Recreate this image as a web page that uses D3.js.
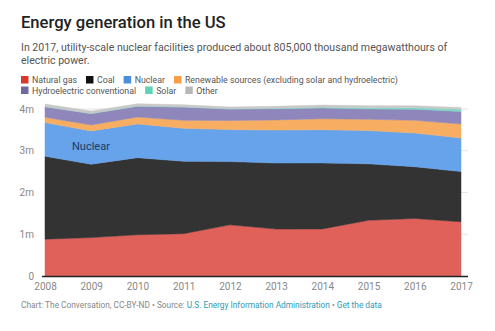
<!DOCTYPE html>
<html><head><meta charset="utf-8">
<script src="https://cdn.jsdelivr.net/npm/d3@7"></script>
<style>
body{margin:0;background:#fff;font-family:Roboto,"Open Sans",sans-serif;}
svg{display:block}
</style></head>
<body>
<svg id="c" width="495" height="331"></svg>
<script>
const years = [2008,2009,2010,2011,2012,2013,2014,2015,2016,2017];
// values in thousand MWh
const naturalGas = [882981,920979,987697,1013689,1225894,1124836,1126609,1333482,1378307,1296442];
const coal = [1985801,1755904,1847290,1733430,1514043,1581115,1581710,1352398,1239149,1205835];
const nuclear = [806208,798855,806968,790204,769331,789016,797166,797178,805694,804950];
const renewable = [126000,143000,166000,192000,214000,244000,261000,270000,305000,333000];
const hydro = [254831,273445,260203,319355,276240,268565,259367,249080,267812,300333];
const solar = [864,891,1212,1818,4327,9036,17691,24893,36054,53287];
const other = [62000,57000,56000,50000,45000,49000,50000,52000,45000,41000];
const yTicks = [0,1000000,2000000,3000000,4000000];
const yTickLabels = ["0","1m","2m","3m","4m"];

const seriesNames = ["Natural gas","Coal","Nuclear","Renewable sources (excluding solar and hydroelectric)","Hydroelectric conventional","Solar","Other"];
const seriesData = [naturalGas,coal,nuclear,renewable,hydro,solar,other];
const areaColors = ["#e0605a","#333333","#67a3ea","#f7ae62","#8f87bb","#7ad8c4","#c8c8c8"];
const legendColors = ["#d63a2f","#111111","#4a8fdc","#f59e45","#6f6aa0","#5ed3b8","#b8b8b8"];

const svg = d3.select("#c");
const rows = years.map((y,i)=>{const r={year:y};seriesNames.forEach((n,k)=>r[n]=seriesData[k][i]);return r;});
const stack = d3.stack().keys(seriesNames)(rows);

const x = d3.scaleLinear().domain([2008,2017]).range([45,461]);
const y = d3.scaleLinear().domain([0,4000000]).range([276,109]);

// title
svg.append("text").attr("x",21).attr("y",28).attr("font-size",16.6).attr("font-weight",500).attr("fill","#222").text("Energy generation in the US");
svg.append("text").attr("x",21).attr("y",51).attr("font-size",10.6).attr("fill","#555").text("In 2017, utility-scale nuclear facilities produced about 805,000 thousand megawatthours of");
svg.append("text").attr("x",21).attr("y",64).attr("font-size",10.6).attr("fill","#555").text("electric power.");

// legend
const legendRows = [[0,1,2,3],[4,5,6]];
legendRows.forEach((row,ri)=>{
  let lx = 21;
  const ly = 83 + ri*10.5;
  row.forEach(k=>{
    svg.append("rect").attr("x",lx).attr("y",ly-7).attr("width",7.5).attr("height",7.5).attr("fill",legendColors[k]);
    const t = svg.append("text").attr("x",lx+11).attr("y",ly).attr("font-size",8.8).attr("fill","#555").text(seriesNames[k]);
    lx += 11 + t.node().getComputedTextLength() + 9;
  });
});

// gridlines
svg.append("g").selectAll("line").data(yTicks.slice(1)).join("line")
  .attr("x1",45).attr("x2",468).attr("y1",d=>y(d)).attr("y2",d=>y(d))
  .attr("stroke","#e6e6e6").attr("stroke-width",1);

// areas
const area = d3.area().x(d=>x(d.data.year)).y0(d=>y(d[0])).y1(d=>y(d[1]));
svg.append("g").selectAll("path").data(stack).join("path")
  .attr("d",area).attr("fill",(d,i)=>areaColors[i])
  .attr("stroke",(d,i)=>areaColors[i]).attr("stroke-width",0.5);

// axis baseline
svg.append("line").attr("x1",42).attr("x2",468).attr("y1",276.5).attr("y2",276.5).attr("stroke","#222").attr("stroke-width",1.5);

// y labels
svg.append("g").selectAll("text").data(yTicks).join("text")
  .attr("x",34).attr("y",d=>y(d)+3.5).attr("text-anchor","end")
  .attr("font-size",10).attr("fill","#888").text((d,i)=>yTickLabels[i]);

// x labels
const xAxis = d3.axisBottom(x).tickValues(years).tickFormat(d3.format("d")).tickSize(0).tickPadding(5);
const gx = svg.append("g").attr("transform","translate(0,278)").call(xAxis);
gx.select(".domain").remove();
gx.selectAll("text").attr("font-size",10).attr("fill","#888").attr("font-family","Roboto,sans-serif");

// Nuclear label
svg.append("text").attr("x",72).attr("y",150).attr("font-size",11).attr("fill","#1e3a66").text("Nuclear");

// footer
const f = svg.append("text").attr("x",21).attr("y",308).attr("font-size",8.3);
f.append("tspan").attr("fill","#888").text("Chart: The Conversation, CC-BY-ND • Source: ");
f.append("tspan").attr("fill","#2e9bb3").text("U.S. Energy Information Administration");
f.append("tspan").attr("fill","#888").text(" • ");
f.append("tspan").attr("fill","#2e9bb3").text("Get the data");
</script>
</body></html>
